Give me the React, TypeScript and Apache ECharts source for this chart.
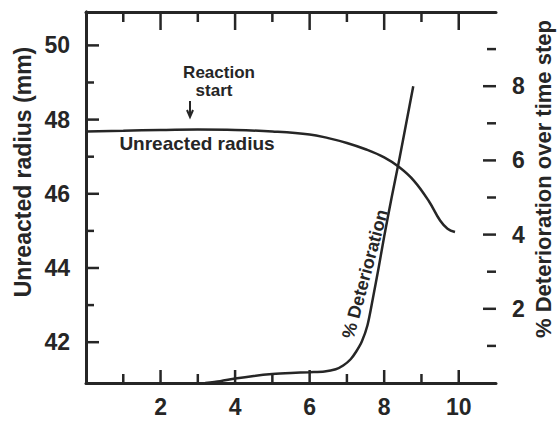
import React, { useEffect, useRef } from "react";
import * as echarts from "echarts";

// ---- data ----
const radiusX = [0, 1, 2, 3, 4, 5, 6, 6.5, 7, 7.5, 8, 8.4, 8.8, 9.2, 9.5, 9.7, 9.9];
const radiusY = [47.68, 47.7, 47.72, 47.73, 47.72, 47.68, 47.6, 47.5, 47.37, 47.2, 46.98, 46.72, 46.35, 45.8, 45.28, 45.06, 44.97];

const deterX = [3.2, 3.6, 4.0, 4.5, 5.0, 5.5, 6.0, 6.4, 6.7, 6.9, 7.1, 7.25, 7.4, 7.55, 7.7, 7.85, 8.0, 8.2, 8.4, 8.6, 8.78];
const deterY = [0, 0.05, 0.12, 0.19, 0.24, 0.27, 0.29, 0.31, 0.37, 0.47, 0.64, 0.85, 1.12, 1.55, 2.3, 3.1, 3.95, 5.0, 6.0, 7.05, 8.0];

const xMajor = [2, 4, 6, 8, 10];
const xMinor = [1, 3, 5, 7, 9];
const leftMajor = [42, 44, 46, 48, 50];
const leftMinor = [43, 45, 47, 49];
const rightMajor = [2, 4, 6, 8];
const rightMinor = [1, 3, 5, 7, 9];

const INK = "#262626";
const NUM_FONT = "Liberation Sans";
const TXT_FONT = "Liberation Sans";

function pairs(xs: number[], ys: number[]) {
  return xs.map((x, i) => [x, ys[i]]);
}

const labelStyle = { color: INK, fontFamily: NUM_FONT, fontWeight: "bold", fontSize: 23 };

// tick marks drawn through the axes' own scales
function tickSeries(kind: "x" | "left" | "right") {
  let data: number[][] = [];
  if (kind === "x") data = [...xMajor.map((v) => [v, 45, 1]), ...xMinor.map((v) => [v, 45, 0])];
  if (kind === "left") data = [...leftMajor.map((v) => [5, v, 1]), ...leftMinor.map((v) => [5, v, 0])];
  if (kind === "right") data = [...rightMajor.map((v) => [5, v, 1]), ...rightMinor.map((v) => [5, v, 0])];
  return {
    type: "custom",
    xAxisIndex: 0,
    yAxisIndex: kind === "right" ? 1 : 0,
    silent: true,
    clip: false,
    z: 5,
    data,
    renderItem: (params: any, api: any) => {
      const cs = params.coordSys;
      const major = api.value(2) === 1;
      const style = { stroke: INK, lineWidth: 2.5 };
      if (kind === "x") {
        const px = api.coord([api.value(0), api.value(1)])[0];
        const b = cs.y + cs.height;
        const lb = major ? 13 : 9;
        const lt = major ? 18 : 10;
        return {
          type: "group",
          children: [
            { type: "line", shape: { x1: px, y1: b, x2: px, y2: b - lb }, style },
            { type: "line", shape: { x1: px, y1: cs.y, x2: px, y2: cs.y + lt }, style },
          ],
        };
      }
      const py = api.coord([api.value(0), api.value(1)])[1];
      if (kind === "left") {
        const l = major ? 13 : 8;
        return { type: "line", shape: { x1: cs.x, y1: py, x2: cs.x + l, y2: py }, style };
      }
      const r = cs.x + cs.width;
      const l = major ? 13 : 9;
      return { type: "line", shape: { x1: r, y1: py, x2: r - l, y2: py }, style };
    },
  };
}

export default function App() {
  const ref = useRef<HTMLDivElement>(null);
  useEffect(() => {
    if (!ref.current) return;
    const chart = echarts.init(ref.current, undefined, { renderer: "svg" });
    chart.setOption({
      animation: false,
      backgroundColor: "#ffffff",
      grid: { left: 86, right: 63, top: 12, bottom: 41 },
      xAxis: [
        {
          type: "value",
          position: "bottom",
          min: 0,
          max: 11,
          axisLine: { show: true, lineStyle: { color: INK, width: 3 } },
          axisTick: { show: false },
          axisLabel: { show: true, customValues: xMajor, margin: 12, ...labelStyle },
          splitLine: { show: false },
        },
        {
          type: "value",
          position: "top",
          min: 0,
          max: 11,
          axisLine: { show: true, lineStyle: { color: INK, width: 3 } },
          axisTick: { show: false },
          axisLabel: { show: false },
          splitLine: { show: false },
        },
      ],
      yAxis: [
        {
          type: "value",
          position: "left",
          min: 40.9,
          max: 50.9,
          axisLine: { show: true, lineStyle: { color: INK, width: 3 } },
          axisTick: { show: false },
          axisLabel: { show: true, customValues: leftMajor, margin: 16, ...labelStyle },
          splitLine: { show: false },
        },
        {
          type: "value",
          position: "right",
          min: 0,
          max: 10,
          axisLine: { show: true, lineStyle: { color: INK, width: 3 } },
          axisTick: { show: false },
          axisLabel: { show: true, customValues: rightMajor, margin: 16, ...labelStyle },
          splitLine: { show: false },
        },
      ],
      series: [
        {
          name: "Unreacted radius",
          type: "line",
          xAxisIndex: 0,
          yAxisIndex: 0,
          data: pairs(radiusX, radiusY),
          smooth: 0.4,
          showSymbol: false,
          lineStyle: { color: INK, width: 2.5 },
        },
        {
          name: "% Deterioration",
          type: "line",
          xAxisIndex: 0,
          yAxisIndex: 1,
          data: pairs(deterX, deterY),
          smooth: 0.3,
          showSymbol: false,
          lineStyle: { color: INK, width: 2.5 },
        },
        tickSeries("x"),
        tickSeries("left"),
        tickSeries("right"),
      ],
      graphic: [
        {
          type: "text",
          x: 23,
          y: 172,
          rotation: Math.PI / 2,
          style: { text: "Unreacted radius (mm)", fill: INK, fontFamily: TXT_FONT, fontWeight: "bold", fontSize: 23, align: "center", verticalAlign: "middle" },
        },
        {
          type: "text",
          x: 543,
          y: 179,
          rotation: Math.PI / 2,
          style: { text: "% Deterioration over time step", fill: INK, fontFamily: TXT_FONT, fontWeight: "bold", fontSize: 22, align: "center", verticalAlign: "middle" },
        },
        {
          type: "text",
          x: 219,
          y: 72,
          style: { text: "Reaction", fill: INK, fontFamily: TXT_FONT, fontWeight: "bold", fontSize: 17, align: "center", verticalAlign: "middle" },
        },
        {
          type: "text",
          x: 214,
          y: 90,
          style: { text: "start", fill: INK, fontFamily: TXT_FONT, fontWeight: "bold", fontSize: 17, align: "center", verticalAlign: "middle" },
        },
        {
          type: "line",
          shape: { x1: 190, y1: 101, x2: 190, y2: 116 },
          style: { stroke: INK, lineWidth: 2 },
        },
        {
          type: "polyline",
          shape: { points: [[187, 110], [190, 117], [193, 110]] },
          style: { stroke: INK, lineWidth: 2, fill: "none" },
        },
        {
          type: "text",
          x: 197,
          y: 143,
          style: { text: "Unreacted radius", fill: INK, fontFamily: TXT_FONT, fontWeight: "bold", fontSize: 19, align: "center", verticalAlign: "middle" },
        },
        {
          type: "text",
          x: 365,
          y: 274,
          rotation: (75 * Math.PI) / 180,
          style: { text: "% Deterioration", fill: INK, fontFamily: TXT_FONT, fontWeight: "bold", fontSize: 18, align: "center", verticalAlign: "middle" },
        },
      ],
    });
    return () => chart.dispose();
  }, []);
  return <div ref={ref} style={{ width: 559, height: 424, position: "absolute", left: 0, top: 0 }} />;
}
